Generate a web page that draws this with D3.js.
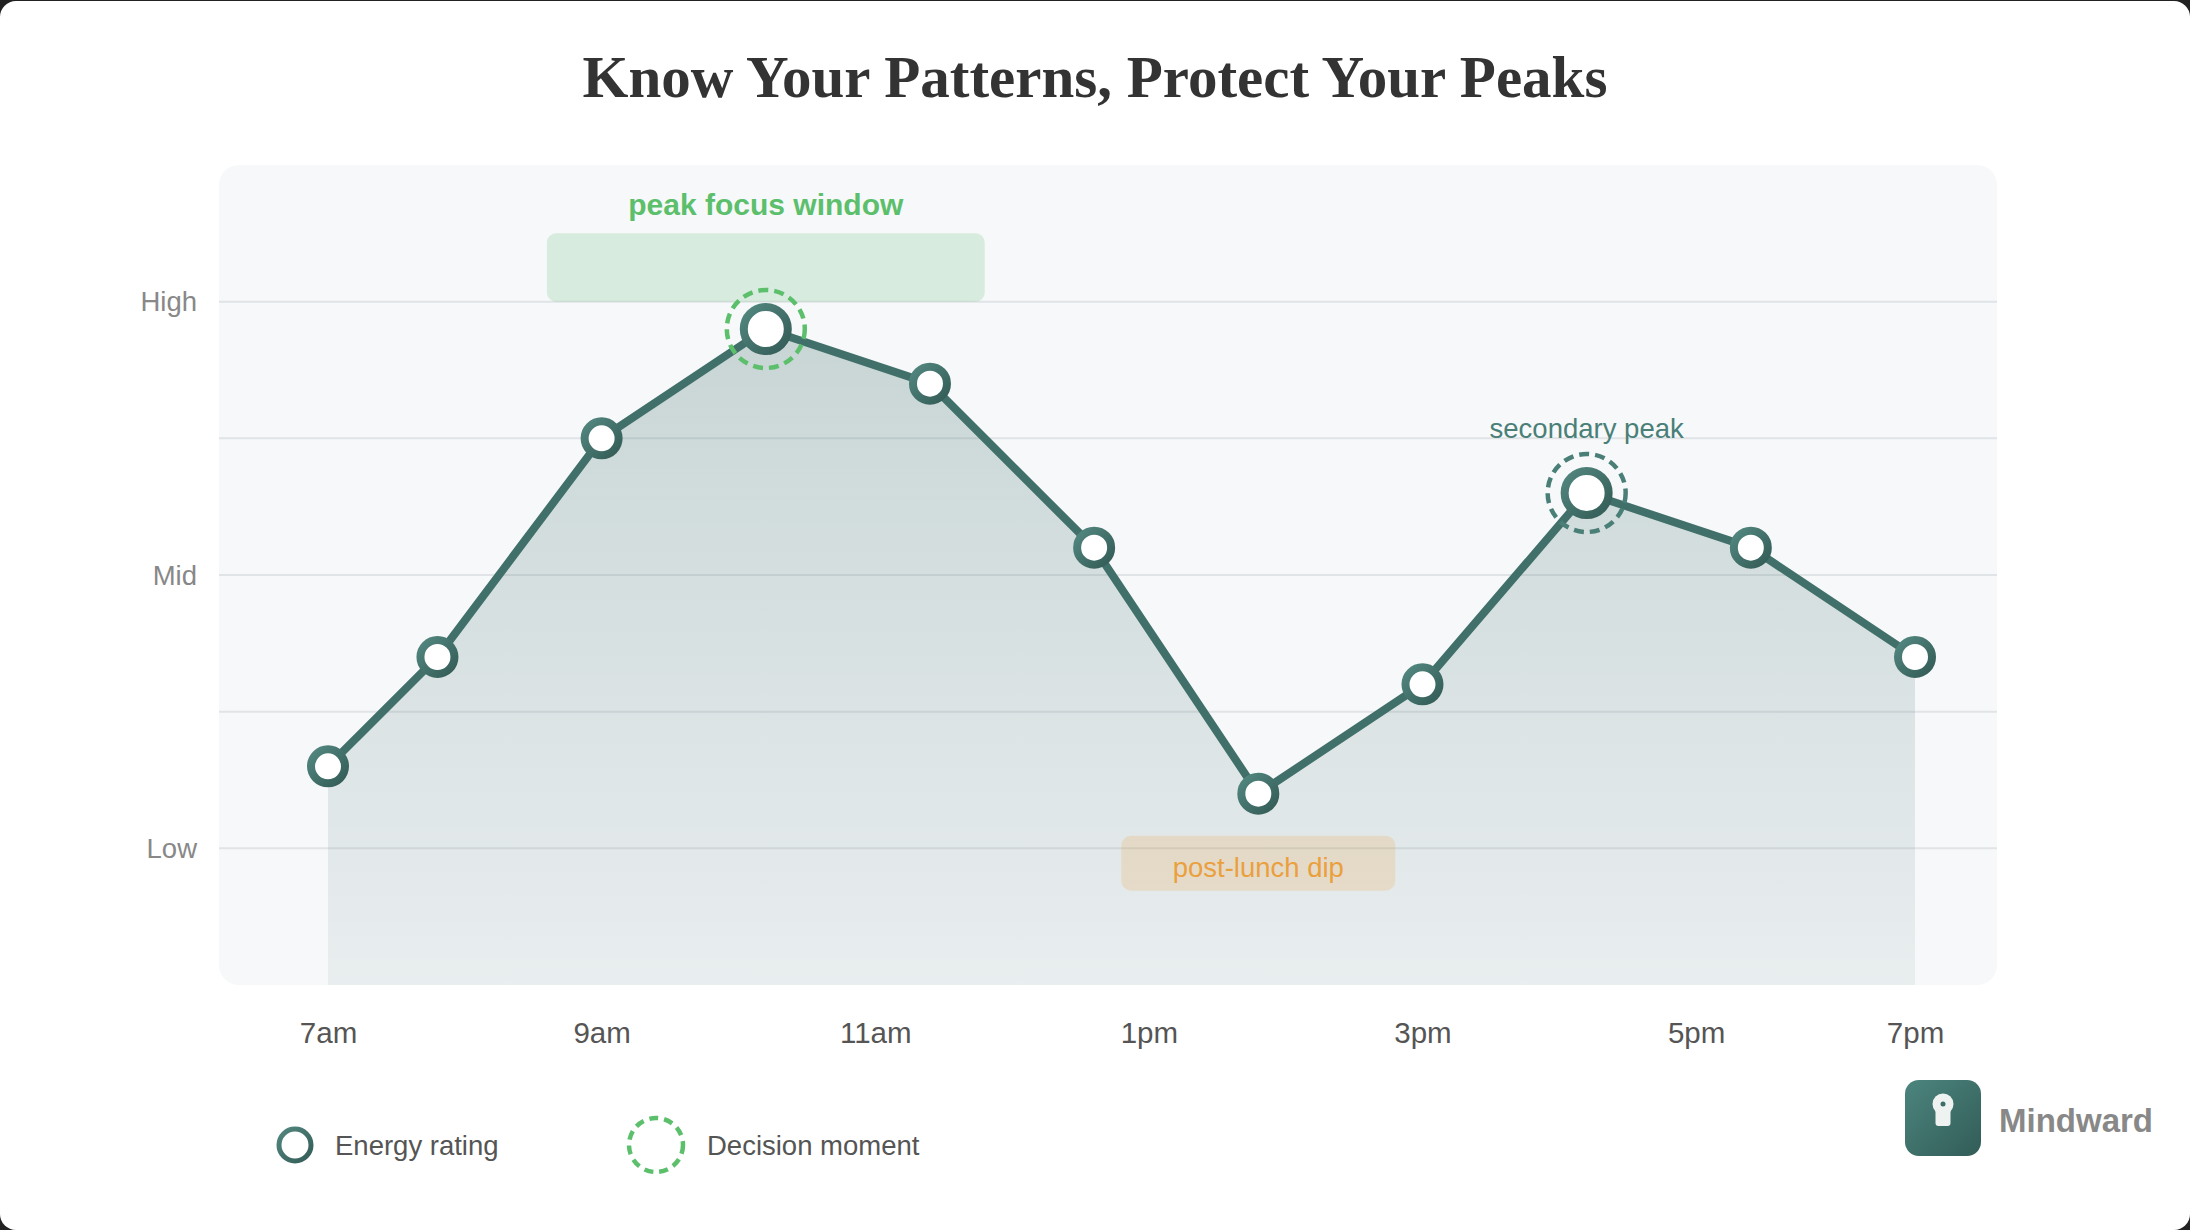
<!DOCTYPE html>
<html>
<head>
<meta charset="utf-8">
<script src="https://cdn.jsdelivr.net/npm/d3@7"></script>
<style>
  html, body { margin: 0; padding: 0; background: #222222; }
  svg { display: block; }
</style>
</head>
<body>
<svg id="chart" width="2190" height="1230"></svg>
<script>
// ---- Data ----
const hours = [7, 7.8, 9, 10.2, 11.4, 12.6, 13.8, 15, 16.2, 17.4, 18.6];
const energy = [1.6, 2.4, 4.0, 4.8, 4.4, 3.2, 1.4, 2.2, 3.6, 3.2, 2.4];
const tickHours = [7, 9, 11, 13, 15, 17, 18.6];
const tickLabels = ["7am", "9am", "11am", "1pm", "3pm", "5pm", "7pm"];
const gridLevels = [1, 2, 3, 4, 5];
const levelValues = [1, 3, 5];
const levelLabels = ["Low", "Mid", "High"];
const peakIndex = 3;
const secondaryIndex = 8;
const dipIndex = 6;
const focusWindow = [8.6, 11.8];
const titleText = "Know Your Patterns, Protect Your Peaks";
const legendLabels = ["Energy rating", "Decision moment"];
const brandName = "Mindward";

const W = 2190, H = 1230;
const panel = { x: 219, y: 165, w: 1778, h: 820 };
const teal = "#41706a";
const sans = "Helvetica, Arial, 'Liberation Sans', sans-serif";

const svg = d3.select("#chart");
const defs = svg.append("defs");

const areaGrad = defs.append("linearGradient").attr("id", "areaGrad")
  .attr("x1", 0).attr("y1", 0).attr("x2", 0).attr("y2", 1);
areaGrad.append("stop").attr("offset", "0%").attr("stop-color", "#44736d").attr("stop-opacity", 0.26);
areaGrad.append("stop").attr("offset", "100%").attr("stop-color", "#44736d").attr("stop-opacity", 0.08);

const ringGrad = defs.append("linearGradient").attr("id", "ringGrad")
  .attr("x1", 0).attr("y1", 0).attr("x2", 1).attr("y2", 1);
ringGrad.append("stop").attr("offset", "0%").attr("stop-color", "#52877f");
ringGrad.append("stop").attr("offset", "100%").attr("stop-color", "#345c57");

const logoGrad = defs.append("linearGradient").attr("id", "logoGrad")
  .attr("x1", 0).attr("y1", 0).attr("x2", 1).attr("y2", 1);
logoGrad.append("stop").attr("offset", "0%").attr("stop-color", "#4c857e");
logoGrad.append("stop").attr("offset", "100%").attr("stop-color", "#325c57");

// Card
svg.append("rect").attr("x", 0).attr("y", 1).attr("width", W).attr("height", H - 1)
  .attr("rx", 16).attr("fill", "#ffffff");

// Title
svg.append("text").attr("x", W / 2).attr("y", 97).attr("text-anchor", "middle")
  .attr("font-family", "Georgia, 'Liberation Serif', serif").attr("font-weight", "bold")
  .attr("font-size", 59).attr("fill", "#333333").text(titleText);

// Scales
const x = d3.scaleLinear().domain([7, 18.6]).range([328, 1915]);
const y = d3.scaleLinear().domain([0, 6]).range([panel.y + panel.h, panel.y]);

// Panel
svg.append("rect").attr("x", panel.x).attr("y", panel.y).attr("width", panel.w).attr("height", panel.h)
  .attr("rx", 20).attr("fill", "#f7f8fa");

// Grid
svg.append("g").selectAll("line").data(gridLevels).join("line")
  .attr("x1", panel.x).attr("x2", panel.x + panel.w)
  .attr("y1", d => y(d)).attr("y2", d => y(d))
  .attr("stroke", "#e1e4e7").attr("stroke-width", 2);

// Y labels
svg.append("g").selectAll("text").data(levelValues).join("text")
  .attr("x", 197).attr("y", d => y(d)).attr("text-anchor", "end")
  .attr("dominant-baseline", "central")
  .attr("font-family", sans)
  .attr("font-size", 27.5).attr("fill", "#888888")
  .text((d, i) => levelLabels[i]);

// X axis labels
const xAxis = d3.axisBottom(x).tickValues(tickHours).tickSize(0)
  .tickFormat((d, i) => tickLabels[i]);
const xg = svg.append("g").attr("transform", `translate(0, 0)`).call(xAxis);
xg.select(".domain").remove();
xg.selectAll("text").attr("font-family", sans)
  .attr("font-size", 29.5).attr("fill", "#555555").attr("dy", null).attr("y", 1043);

const pts = hours.map((h, i) => ({ h, v: energy[i], i }));

// Focus window band
svg.append("rect").attr("x", x(focusWindow[0])).attr("y", y(5.5))
  .attr("width", x(focusWindow[1]) - x(focusWindow[0])).attr("height", y(5) - y(5.5))
  .attr("rx", 9).attr("fill", "#5cbf6c").attr("fill-opacity", 0.2);
svg.append("text").attr("x", x(hours[peakIndex])).attr("y", y(5.5) - 18)
  .attr("text-anchor", "middle")
  .attr("font-family", sans).attr("font-weight", "bold")
  .attr("font-size", 30).attr("fill", "#5cbf6c").text("peak focus window");

// Area
const area = d3.area().x(d => x(d.h)).y0(y(0)).y1(d => y(d.v));
svg.append("path").datum(pts).attr("d", area).attr("fill", "url(#areaGrad)");

// Line
const line = d3.line().x(d => x(d.h)).y(d => y(d.v));
svg.append("path").datum(pts).attr("d", line).attr("fill", "none")
  .attr("stroke", teal).attr("stroke-width", 8).attr("stroke-linejoin", "round").attr("stroke-linecap", "round");

// Post-lunch dip label
const dipX = x(hours[dipIndex]), dipY = y(energy[dipIndex]);
svg.append("rect").attr("x", dipX - 137).attr("y", dipY + 42).attr("width", 274).attr("height", 55)
  .attr("rx", 10).attr("fill", "#eca03c").attr("fill-opacity", 0.2);
svg.append("text").attr("x", dipX).attr("y", dipY + 83).attr("text-anchor", "middle")
  .attr("font-family", sans)
  .attr("font-size", 27.5).attr("fill", "#eba03e").text("post-lunch dip");

// Decision rings
svg.append("circle").attr("cx", x(hours[peakIndex])).attr("cy", y(energy[peakIndex])).attr("r", 39)
  .attr("fill", "none").attr("stroke", "#5cbf6c").attr("stroke-width", 4.5).attr("stroke-dasharray", "10 6");
svg.append("circle").attr("cx", x(hours[secondaryIndex])).attr("cy", y(energy[secondaryIndex])).attr("r", 39)
  .attr("fill", "none").attr("stroke", "#4a7f78").attr("stroke-width", 4.5).attr("stroke-dasharray", "10 6");
svg.append("text").attr("x", x(hours[secondaryIndex])).attr("y", y(energy[secondaryIndex]) - 55)
  .attr("text-anchor", "middle")
  .attr("font-family", sans)
  .attr("font-size", 27.5).attr("fill", "#4a7f78").text("secondary peak");

// Points
svg.append("g").selectAll("circle").data(pts).join("circle")
  .attr("cx", d => x(d.h)).attr("cy", d => y(d.v))
  .attr("r", d => (d.i === peakIndex || d.i === secondaryIndex) ? 22 : 17)
  .attr("fill", "#ffffff").attr("stroke", "url(#ringGrad)").attr("stroke-width", 8);

// Legend
const lg = svg.append("g").attr("font-family", sans)
  .attr("font-size", 27.5).attr("fill", "#555555");
lg.append("circle").attr("cx", 295).attr("cy", 1145).attr("r", 16)
  .attr("fill", "none").attr("stroke", "url(#ringGrad)").attr("stroke-width", 5);
lg.append("text").attr("x", 335).attr("y", 1145).attr("dominant-baseline", "central").text(legendLabels[0]);
lg.append("circle").attr("cx", 656).attr("cy", 1145).attr("r", 27)
  .attr("fill", "none").attr("stroke", "#5cbf6c").attr("stroke-width", 4.5).attr("stroke-dasharray", "9 6");
lg.append("text").attr("x", 707).attr("y", 1145).attr("dominant-baseline", "central").text(legendLabels[1]);

// Brand
const bg = svg.append("g");
bg.append("rect").attr("x", 1905).attr("y", 1080).attr("width", 76).attr("height", 76).attr("rx", 14)
  .attr("fill", "url(#logoGrad)");
bg.append("circle").attr("cx", 1943).attr("cy", 1104).attr("r", 10.5).attr("fill", "#eef3f2");
bg.append("rect").attr("x", 1935.5).attr("y", 1106).attr("width", 15).attr("height", 20).attr("rx", 3).attr("fill", "#eef3f2");
bg.append("circle").attr("cx", 1943).attr("cy", 1104).attr("r", 2.5).attr("fill", "#3e6e68");
bg.append("text").attr("x", 1999).attr("y", 1132)
  .attr("font-family", sans).attr("font-weight", "bold")
  .attr("font-size", 33).attr("fill", "#888888").text(brandName);
</script>
</body>
</html>
